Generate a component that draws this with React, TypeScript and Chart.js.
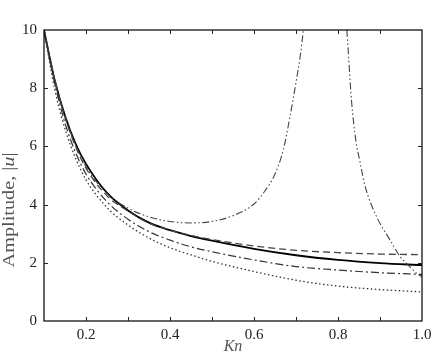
import React, { useEffect, useRef } from 'react';
import { Chart, registerables } from 'chart.js';
Chart.register(...registerables);

const xTickLabels = [0.2, 0.4, 0.6, 0.8, 1.0];
const yTickLabels = [0, 2, 4, 6, 8, 10];

const knGrid = [0.1, 0.125, 0.15, 0.175, 0.2, 0.25, 0.3, 0.35, 0.4, 0.45, 0.5, 0.6, 0.7, 0.8, 0.9, 1.0];
const ampSolid = [10, 8.3, 7.05, 6.1, 5.4, 4.4, 3.8, 3.38, 3.12, 2.92, 2.76, 2.48, 2.26, 2.1, 1.99, 1.92];
const ampDashed = [10, 8.3, 7.0, 6.0, 5.25, 4.3, 3.78, 3.36, 3.12, 2.94, 2.8, 2.58, 2.43, 2.35, 2.3, 2.28];
const ampDashDot = [10, 8.2, 6.8, 5.8, 5.05, 4.1, 3.5, 3.07, 2.78, 2.55, 2.38, 2.1, 1.87, 1.75, 1.66, 1.6];
const ampDotted = [10, 8.0, 6.6, 5.6, 4.85, 3.9, 3.3, 2.85, 2.52, 2.27, 2.05, 1.7, 1.4, 1.2, 1.08, 1.0];

const knRise = [0.1, 0.125, 0.15, 0.175, 0.2, 0.25, 0.3, 0.35, 0.4, 0.45, 0.5, 0.55, 0.6, 0.625, 0.65, 0.67, 0.686, 0.7, 0.71, 0.718, 0.722];
const ampRise = [10, 8.35, 7.05, 6.05, 5.3, 4.38, 3.88, 3.58, 3.42, 3.37, 3.42, 3.62, 4.02, 4.45, 5.05, 5.9, 7.05, 8.2, 9.1, 10.05, 10.6];

const knFall = [0.817, 0.821, 0.832, 0.8425, 0.852, 0.864, 0.892, 0.924, 0.948, 0.97, 0.991, 1.0];
const ampFall = [10.6, 10.0, 7.6, 6.2, 5.5, 4.66, 3.58, 2.78, 2.21, 1.88, 1.6, 1.52];

const xMinorTicks = [0.2, 0.3, 0.4, 0.5, 0.6, 0.7, 0.8, 0.9];
const yMinorTicks = [2, 4, 6, 8];

const FONT = '"Liberation Serif", "Times New Roman", Times, serif';

const pts = (xs: number[], ys: number[]) => xs.map((x, i) => ({ x, y: ys[i] }));

const framePlugin = {
  id: 'frame',
  afterDatasetsDraw(chart: any) {
    const { ctx, chartArea: a, scales } = chart;
    const xs = scales.x;
    const ys = scales.y;
    ctx.save();
    ctx.strokeStyle = '#000';
    ctx.lineWidth = 1.2;
    ctx.strokeRect(a.left, a.top, a.right - a.left, a.bottom - a.top);
    ctx.lineWidth = 1;
    ctx.strokeStyle = '#222';
    ctx.beginPath();
    const tl = 4;
    xMinorTicks.forEach((v) => {
      const px = Math.round(xs.getPixelForValue(v)) + 0.5;
      ctx.moveTo(px, a.bottom);
      ctx.lineTo(px, a.bottom - tl);
      ctx.moveTo(px, a.top);
      ctx.lineTo(px, a.top + tl);
    });
    yMinorTicks.forEach((v) => {
      const py = Math.round(ys.getPixelForValue(v)) + 0.5;
      ctx.moveTo(a.left, py);
      ctx.lineTo(a.left + tl, py);
      ctx.moveTo(a.right, py);
      ctx.lineTo(a.right - tl, py);
    });
    ctx.stroke();

    ctx.fillStyle = '#555';
    ctx.font = `italic 16px ${FONT}`;
    ctx.textAlign = 'center';
    ctx.textBaseline = 'middle';
    ctx.fillText('Kn', (a.left + a.right) / 2, 347);

    const parts = [
      { t: 'Amplitude, |', f: `16px ${FONT}` },
      { t: 'u', f: `italic 16px ${FONT}` },
      { t: '|', f: `16px ${FONT}` },
    ];
    let total = 0;
    const widths = parts.map((p) => {
      ctx.font = p.f;
      const w = ctx.measureText(p.t).width;
      total += w;
      return w;
    });
    ctx.translate(10, 210);
    ctx.rotate(-Math.PI / 2);
    ctx.scale(115 / total, 1);
    ctx.textAlign = 'left';
    let cx = -total / 2;
    parts.forEach((p, i) => {
      ctx.font = p.f;
      ctx.fillText(p.t, cx, 0);
      cx += widths[i];
    });
    ctx.restore();
  },
};

export default function App() {
  const ref = useRef<HTMLCanvasElement>(null);
  useEffect(() => {
    if (!ref.current) return;
    let chart: any = null;
    let cancelled = false;
    const build = () => {
      if (cancelled || !ref.current) return;
      const grey = '#444';
      const common = { pointRadius: 0, fill: false, cubicInterpolationMode: 'monotone' as const, clip: 0 };
      chart = new Chart(ref.current, {
        type: 'line',
        data: {
          datasets: [
            { ...common, label: 'dotted', data: pts(knGrid, ampDotted), borderColor: '#333', borderWidth: 1.3, borderDash: [1.5, 2.5] },
            { ...common, label: 'dashdot', data: pts(knGrid, ampDashDot), borderColor: '#333', borderWidth: 1.2, borderDash: [8, 3, 2, 3] },
            { ...common, label: 'dashed', data: pts(knGrid, ampDashed), borderColor: grey, borderWidth: 1.3, borderDash: [7, 4] },
            { ...common, label: 'rise', data: pts(knRise, ampRise), borderColor: grey, borderWidth: 1.1, borderDash: [7, 2.5, 1.5, 2.5, 1.5, 2.5] },
            { ...common, label: 'fall', data: pts(knFall, ampFall), borderColor: grey, borderWidth: 1.1, borderDash: [7, 2.5, 1.5, 2.5, 1.5, 2.5] },
            { ...common, label: 'solid', data: pts(knGrid, ampSolid), borderColor: '#000', borderWidth: 1.8 },
          ],
        },
        options: {
          responsive: false,
          animation: false,
          layout: { padding: { top: 30, right: 9, left: 0, bottom: 0 } },
          plugins: { legend: { display: false }, tooltip: { enabled: false }, title: { display: false } },
          scales: {
            x: {
              type: 'linear',
              min: 0.1,
              max: 1.0,
              grid: { display: false, drawTicks: false },
              border: { display: false },
              afterBuildTicks: (s: any) => {
                s.ticks = xTickLabels.map((v) => ({ value: v }));
              },
              afterFit: (s: any) => {
                s.height = 41;
                s.paddingLeft = 0;
                s.paddingRight = 0;
              },
              ticks: {
                padding: 5,
                color: '#222',
                font: { family: FONT, size: 15 },
                maxRotation: 0,
                autoSkip: false,
                callback: (v: any) => Number(v).toFixed(1),
              },
            },
            y: {
              type: 'linear',
              min: 0,
              max: 10,
              grid: { display: false, drawTicks: false },
              border: { display: false },
              afterBuildTicks: (s: any) => {
                s.ticks = yTickLabels.map((v) => ({ value: v }));
              },
              afterFit: (s: any) => {
                s.width = 44;
                s.paddingTop = 0;
                s.paddingBottom = 0;
              },
              ticks: {
                padding: 7,
                color: '#222',
                font: { family: FONT, size: 15 },
                autoSkip: false,
                callback: (v: any) => String(v),
              },
            },
          },
        },
        plugins: [framePlugin],
      });
    };
    const fonts: any = (document as any).fonts;
    if (fonts && fonts.load) {
      Promise.all([
        fonts.load('15px "Liberation Serif"'),
        fonts.load('italic 16px "Liberation Serif"'),
      ]).then(build, build);
    } else {
      build();
    }
    return () => {
      cancelled = true;
      if (chart) chart.destroy();
    };
  }, []);
  return (
    <div style={{ position: 'absolute', left: 0, top: 0, width: 431, height: 362, background: '#fff' }}>
      <canvas ref={ref} width={431} height={362} style={{ display: 'block' }} />
    </div>
  );
}
